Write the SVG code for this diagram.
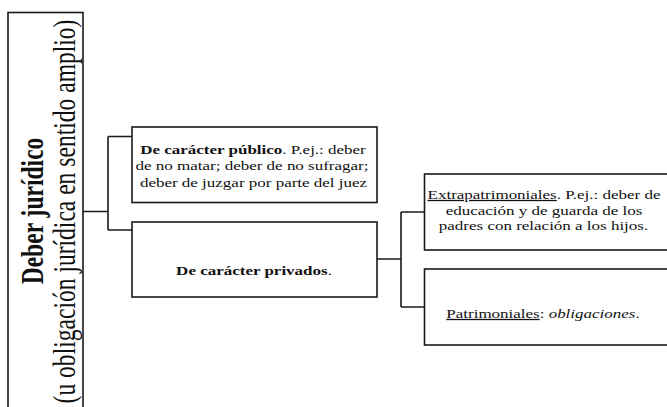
<svg xmlns="http://www.w3.org/2000/svg" width="667" height="407" viewBox="0 0 667 407">
<style>
.box{fill:#fff;stroke:#1a1a1a;stroke-width:1.6}
.con{fill:none;stroke:#1a1a1a;stroke-width:1.6}
.t{font-size:17px;fill:#111}
.c{text-anchor:middle}
.big{font-size:31px;fill:#111;text-anchor:middle}
.b{font-weight:bold}
.u{text-decoration:underline}
.i{font-style:italic}
</style>
<rect width="667" height="407" fill="#fff"/>
<g id="connectors">
<path class="con" d="M83,211.5 H108 M108,136.5 V230 M108,136.5 H132 M108,230 H132"/>
<path class="con" d="M377,259 H401 M401,212 V307 M401,212 H425 M401,307 H425"/>
</g>
<g font-family="Liberation Serif, serif">
<g id="root">
<rect class="box" x="8" y="12.5" width="75" height="420"/>
<text class="big b" transform="translate(43,211) scale(1,0.76) rotate(-90)">Deber jurídico</text>
<text class="big" transform="translate(75,211.5) scale(1,0.76) rotate(-90)">(u obligación jurídica en sentido amplio)</text>
</g>
<g id="publico">
<rect class="box" x="132" y="127" width="245" height="75.5"/>
<text class="t c" transform="translate(253,153.5) scale(1,0.76)"><tspan class="b">De carácter público</tspan>. P.ej.: deber</text>
<text class="t c" transform="translate(252,170) scale(1,0.76)">de no matar; deber de no sufragar;</text>
<text class="t c" transform="translate(253.5,186.5) scale(1,0.76)">deber de juzgar por parte del juez</text>
</g>
<g id="privados">
<rect class="box" x="132" y="222" width="245" height="75"/>
<text class="t c" transform="translate(254,274.5) scale(1,0.76)"><tspan class="b">De carácter privados</tspan>.</text>
</g>
<g id="extrapatrimoniales">
<rect class="box" x="424.5" y="174" width="260" height="76"/>
<text class="t c" transform="translate(544,199) scale(1,0.76)"><tspan class="u">Extrapatrimoniales</tspan>. P.ej.: deber de</text>
<text class="t c" transform="translate(544,214.5) scale(1,0.76)">educación y de guarda de los</text>
<text class="t c" transform="translate(543.5,230) scale(1,0.76)">padres con relación a los hijos.</text>
</g>
<g id="patrimoniales">
<rect class="box" x="424.5" y="269" width="260" height="76"/>
<text class="t c" transform="translate(543,318) scale(1,0.76)"><tspan class="u">Patrimoniales</tspan>: <tspan class="i">obligaciones</tspan>.</text>
</g>
</g>
</svg>
